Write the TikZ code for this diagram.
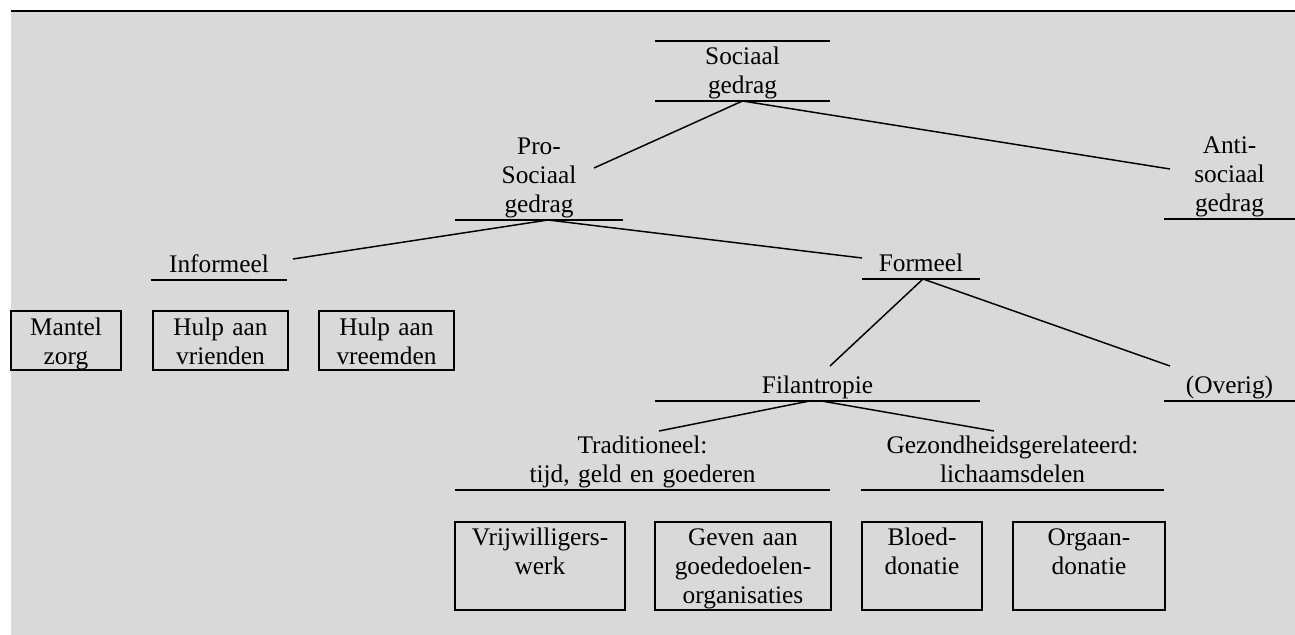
\documentclass[tikz,border=0pt]{standalone}
\usepackage{fontspec}
\setmainfont{Liberation Serif}
\usepackage{xcolor}
\usetikzlibrary{calc}
\definecolor{achtergrond}{HTML}{D9D9D9}
\newdimen\pxmaat
\pxmaat=0.75pt
\tikzset{
kop/.style={
text width=#1\pxmaat,
align=center,
inner sep=0pt,
anchor=south,
font=\fontsize{19pt}{21.75pt}\selectfont,
execute at end node={\rule[-5.25pt]{0pt}{5.25pt}}
},
blok/.style={
draw,
line width=1.5pt,
text width=#1\pxmaat,
align=center,
inner sep=0pt,
anchor=north west,
font=\fontsize{19pt}{21.75pt}\selectfont
},
rij1/.style={text height=18pt,text depth=26.25pt},
rij2/.style={text height=17.25pt,text depth=48.75pt},
regel/.style={line width=1.5pt},
lijn/.style={line width=1.1pt}
}
\begin{document}
\begin{tikzpicture}[x=0.75pt,y=-0.75pt]
\useasboundingbox (0,0) rectangle (1295,635);
\fill[achtergrond] (11,11) rectangle (1295,635);
\draw[regel] (11,11) -- (1295,11);

% koppen met streep eronder
\node[kop=175](soc) at (742.5,101){Sociaal\\gedrag};
\node[kop=168](pro) at (539,220){Pro-\\Sociaal\\gedrag};
\node[kop=131](anti) at (1229.5,219){Anti-\\sociaal\\gedrag};
\node[kop=136](inf) at (219,280){Informeel};
\node[kop=118](form) at (921,279){Formeel};
\node[kop=325](fil) at (817.5,401){Filantropie};
\node[kop=131](ov) at (1229.5,401){(Overig)};
\node[kop=375](trad) at (642.5,490){Traditioneel:\\tijd, geld en goederen};
\node[kop=303](gez) at (1012.5,490){Gezondheidsgerelateerd:\\lichaamsdelen};

% blokken
\node[blok=110,rij1](mz) at (10,310){Mantel\\zorg};
\node[blok=135,rij1](hv) at (152,310){Hulp aan\\vrienden};
\node[blok=135,rij1](hvr) at (318,310){Hulp aan\\vreemden};
\node[blok=170,rij2](vw) at (454,521){Vrijwilligers-\\werk};
\node[blok=176,rij2](gd) at (654,521){Geven aan\\goededoelen-\\organisaties};
\node[blok=120,rij2](bd) at (861,521){Bloed-\\donatie};
\node[blok=152,rij2](od) at (1012,521){Orgaan-\\donatie};

\foreach \n in {soc,pro,anti,inf,form,fil,ov,trad,gez}
\draw[regel](\n.south west)--(\n.south east);
\draw[regel]($(soc.south west)+(0,-60)$)--($(soc.south east)+(0,-60)$);

% eindpunten van de lijnen
\coordinate (pro-uit) at ($(pro.south)+(9,0)$);
\coordinate (form-uit) at ($(form.south)+(2,0)$);
\coordinate (fil-links) at ($(fil.south)+(-8,0)$);
\coordinate (fil-rechts) at ($(fil.south)+(4,0)$);
\coordinate (pro-in) at (594,168);
\coordinate (anti-in) at (1170,169);
\coordinate (inf-in) at (293,259);
\coordinate (form-in) at (862,258);
\coordinate (fil-in) at (830,366);
\coordinate (ov-in) at (1170,366);
\coordinate (trad-in) at (659,431);
\coordinate (gez-in) at (994,431);

\foreach \x/\y in {soc.south/pro-in,soc.south/anti-in,pro-uit/inf-in,pro-uit/form-in,form-uit/fil-in,form-uit/ov-in,fil-links/trad-in,fil-rechts/gez-in}
\draw[lijn](\x)--(\y);

\end{tikzpicture}
\end{document}
